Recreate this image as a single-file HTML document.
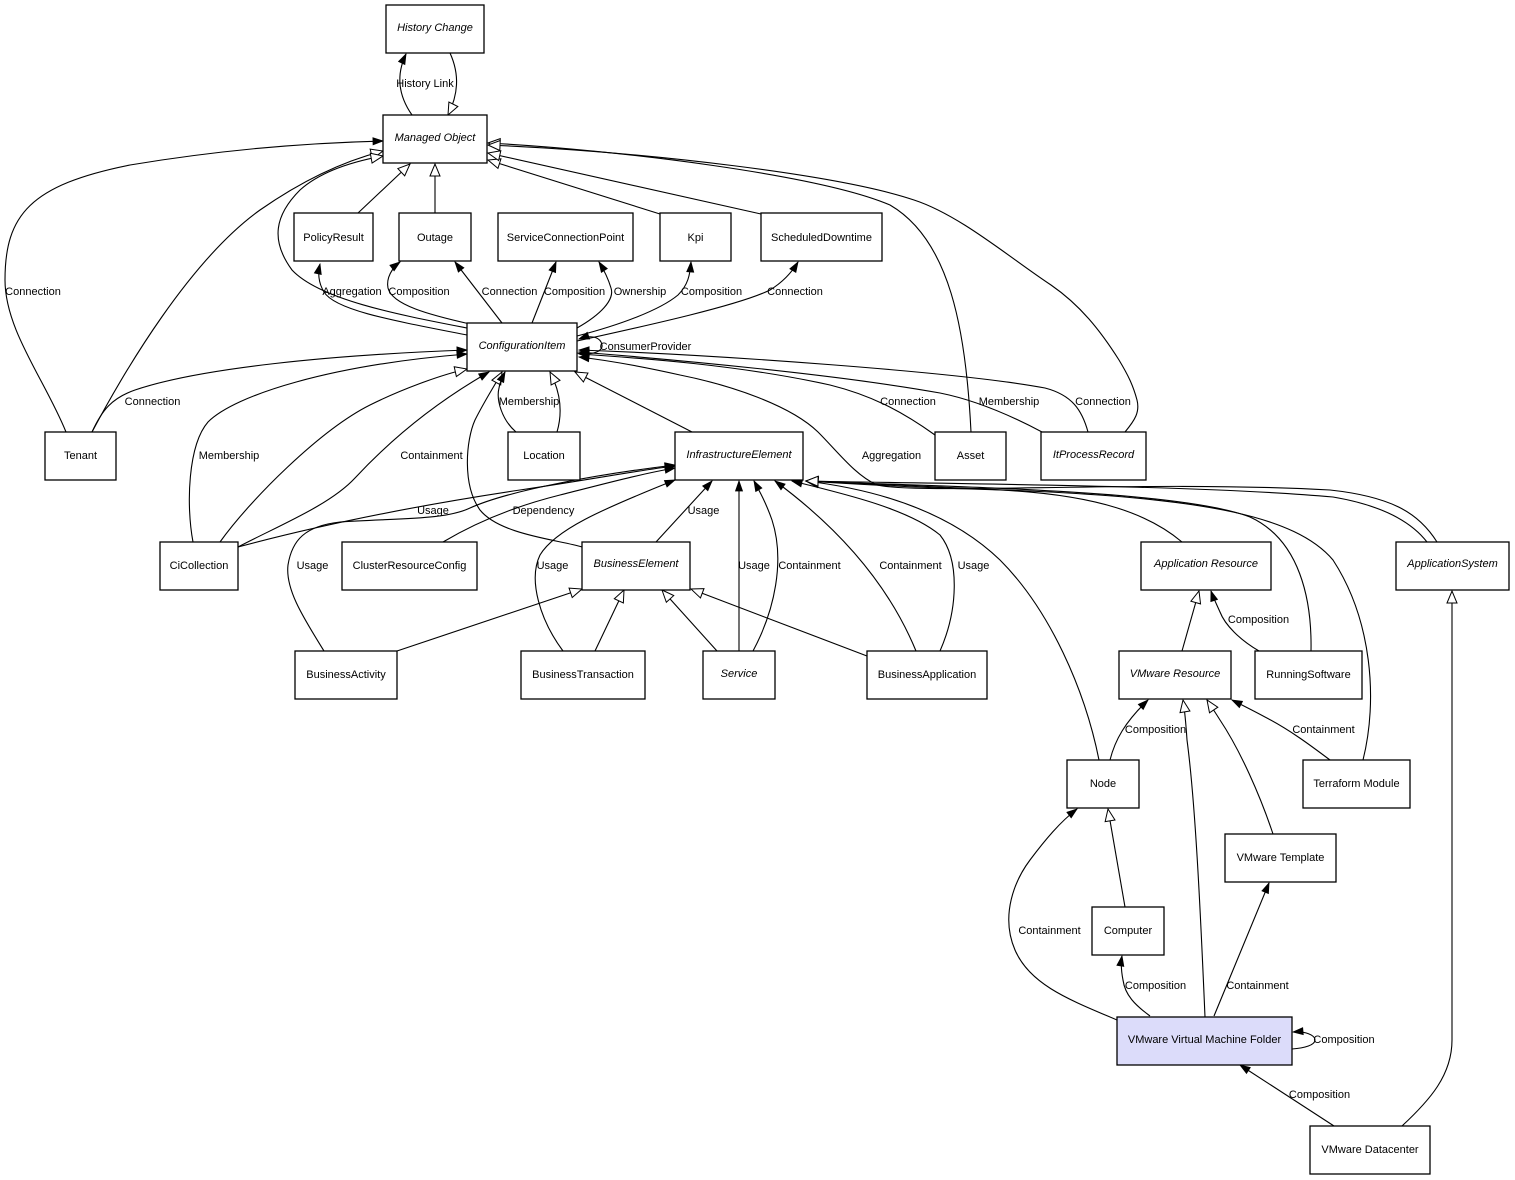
<!DOCTYPE html>
<html>
<head>
<meta charset="utf-8">
<style>
html,body{margin:0;padding:0;background:#fff;}
svg{display:block;}
text{font-family:"Liberation Sans",Arial,sans-serif;font-size:11px;fill:#000;}
.n{fill:#fff;stroke:#000;stroke-width:1.3;}
.e{fill:none;stroke:#000;stroke-width:1.1;}
.i{font-style:italic;}
</style>
</head>
<body>
<svg width="1515" height="1180" viewBox="0 0 1515 1180" xmlns="http://www.w3.org/2000/svg">
<defs>
<marker id="f" markerUnits="userSpaceOnUse" markerWidth="12" markerHeight="10" refX="10" refY="4" orient="auto" overflow="visible">
<path d="M0,0.5 L10,4 L0,7.5 z" fill="#000" stroke="#000" stroke-width="0.8"/>
</marker>
<marker id="h" markerUnits="userSpaceOnUse" markerWidth="14" markerHeight="12" refX="12" refY="5" orient="auto" overflow="visible">
<path d="M0,0 L12,5 L0,10 z" fill="#fff" stroke="#000" stroke-width="1"/>
</marker>
</defs>

<!-- ===== EDGES ===== -->
<g class="edges">
<!-- History link -->
<path class="e" d="M412,115 C398,95 396,75 406,54" marker-end="url(#f)"/>
<path class="e" d="M450,53 C460,75 458,95 448,115" marker-end="url(#h)"/>

<!-- Tenant -> Managed Object -->
<path class="e" d="M66,432 C45,380 5,330 5,280 C5,215 30,185 130,165 C220,150 300,143 383,141" marker-end="url(#f)"/>
<path class="e" d="M92,432 C125,370 190,260 260,210 C300,182 340,162 383,151" marker-end="url(#h)"/>

<!-- CI -> Managed Object gen -->
<path class="e" d="M467,328 C400,315 320,300 292,270 C270,240 275,215 300,190 C320,172 350,162 383,156" marker-end="url(#h)"/>
<!-- CI -> PolicyResult Aggregation -->
<path class="e" d="M467,335 C390,320 335,310 324,292 C318,282 318,273 320,264" marker-end="url(#f)"/>
<!-- PolicyResult, Outage -> MO -->
<path class="e" d="M358,213 L410,164" marker-end="url(#h)"/>
<path class="e" d="M435,213 L435,164" marker-end="url(#h)"/>
<!-- Kpi, SD -> MO -->
<path class="e" d="M660,214 L488,160" marker-end="url(#h)"/>
<path class="e" d="M761,214 L488,153" marker-end="url(#h)"/>
<!-- Asset -> MO -->
<path class="e" d="M971,432 C966,330 950,240 890,205 C820,175 620,150 488,143" marker-end="url(#h)"/>
<!-- ItProcessRecord -> MO -->
<path class="e" d="M1125,432 C1135,420 1140,412 1137,400 C1133,385 1128,375 1119,360 C1100,330 1080,305 1051,285 C1010,258 960,215 914,200 C840,175 650,152 488,145" marker-end="url(#h)"/>

<!-- CI -> Outage Composition -->
<path class="e" d="M470,324 C430,315 392,305 388,288 C386,278 392,268 400,262" marker-end="url(#f)"/>
<!-- CI -> Outage Connection -->
<path class="e" d="M502,323 L455,262" marker-end="url(#f)"/>
<!-- CI -> SCP Composition -->
<path class="e" d="M532,323 L556,262" marker-end="url(#f)"/>
<!-- CI -> SCP Ownership -->
<path class="e" d="M577,328 C600,315 615,300 611,288 C608,278 604,270 599,262" marker-end="url(#f)"/>
<!-- CI -> Kpi Composition -->
<path class="e" d="M577,336 C620,325 660,310 678,295 C688,285 690,275 691,262" marker-end="url(#f)"/>
<!-- CI -> SD Connection -->
<path class="e" d="M577,341 C650,325 740,305 770,290 C783,282 792,272 798,262" marker-end="url(#f)"/>
<!-- CI self loop -->
<path class="e" d="M577,353 C595,356 603,350 602,345 C601,338 593,334 579,339" marker-end="url(#f)"/>

<!-- Tenant -> CI Connection -->
<path class="e" d="M92,432 C102,410 112,398 135,390 C200,368 330,355 467,350" marker-end="url(#f)"/>
<!-- CiCollection -> CI Membership -->
<path class="e" d="M193,542 C186,505 188,445 208,422 C235,395 330,365 467,354" marker-end="url(#f)"/>
<!-- CiCollection -> CI gen -->
<path class="e" d="M220,542 C250,500 320,430 370,405 C400,390 440,375 467,369" marker-end="url(#h)"/>
<!-- CiCollection -> CI Containment -->
<path class="e" d="M238,547 C280,525 330,505 355,478 C395,435 440,400 489,372" marker-end="url(#f)"/>
<!-- CiCollection -> IE Usage -->
<path class="e" d="M238,547 C320,525 420,505 520,490 C600,478 640,470 675,466" marker-end="url(#f)"/>
<!-- BusinessActivity -> IE Usage -->
<path class="e" d="M324,651 C305,620 285,590 288,565 C292,540 305,526 340,522 C400,518 445,520 470,508 C510,490 600,474 675,465" marker-end="url(#f)"/>
<!-- ClusterResourceConfig -> IE Dependency -->
<path class="e" d="M443,542 C480,520 520,505 560,495 C600,485 640,474 675,468" marker-end="url(#f)"/>
<!-- BE -> CI gen -->
<path class="e" d="M582,547 C560,540 500,535 480,510 C462,485 466,440 475,420 C485,400 495,385 502,372" marker-end="url(#h)"/>
<!-- Location -> CI Membership -->
<path class="e" d="M516,432 C502,420 496,400 499,388 C500,381 503,376 505,372" marker-end="url(#f)"/>
<!-- Location -> CI gen -->
<path class="e" d="M557,432 C562,415 562,395 550,372" marker-end="url(#h)"/>
<!-- IE -> CI gen -->
<path class="e" d="M692,432 L575,372" marker-end="url(#h)"/>

<!-- Asset -> CI Connection -->
<path class="e" d="M935,435 C900,410 870,395 830,385 C740,365 640,358 579,354" marker-end="url(#f)"/>
<!-- ItPR -> CI Membership -->
<path class="e" d="M1042,432 C1010,415 975,400 940,393 C840,375 680,360 579,352" marker-end="url(#f)"/>
<!-- ItPR -> CI Connection -->
<path class="e" d="M1088,432 C1082,410 1072,395 1045,388 C960,372 720,355 579,350" marker-end="url(#f)"/>
<!-- AppSystem -> CI Aggregation -->
<path class="e" d="M1437,542 C1420,515 1395,497 1330,490 C1150,480 920,495 877,485 C855,475 838,452 818,432 C790,405 730,385 680,375 C640,366 605,360 579,357" marker-end="url(#f)"/>

<!-- BE -> IE Usage -->
<path class="e" d="M656,542 L712,481" marker-end="url(#f)"/>
<!-- Service -> IE Usage -->
<path class="e" d="M739,651 L739,481" marker-end="url(#f)"/>
<!-- Service -> IE Containment -->
<path class="e" d="M753,651 C775,610 785,560 772,520 C766,503 760,492 754,481" marker-end="url(#f)"/>
<!-- BApp -> IE Containment -->
<path class="e" d="M916,651 C895,600 855,540 775,481" marker-end="url(#f)"/>
<!-- BApp -> IE Usage -->
<path class="e" d="M940,651 C958,610 960,560 940,535 C910,510 850,495 792,481" marker-end="url(#f)"/>
<!-- BT -> IE Usage -->
<path class="e" d="M563,651 C540,620 528,580 540,555 C555,530 600,510 675,480" marker-end="url(#f)"/>

<!-- BE generalizations -->
<path class="e" d="M397,651 L582,589" marker-end="url(#h)"/>
<path class="e" d="M595,651 L624,590" marker-end="url(#h)"/>
<path class="e" d="M717,651 L662,590" marker-end="url(#h)"/>
<path class="e" d="M867,656 L691,589" marker-end="url(#h)"/>

<!-- bundle into IE bottom-right -->
<path class="e" d="M1099,760 C1085,690 1050,610 1000,560 C950,512 880,490 806,481" marker-end="url(#h)"/>
<path class="e" d="M1182,542 C1150,515 1100,495 1000,490 C900,487 850,484 806,481" marker-end="url(#h)"/>
<path class="e" d="M1311,651 C1312,600 1300,540 1250,517 C1180,490 950,487 806,481" marker-end="url(#h)"/>
<path class="e" d="M1363,760 C1378,700 1372,620 1333,560 C1295,515 1200,500 1050,492 C950,487 870,484 806,481" marker-end="url(#h)"/>
<path class="e" d="M1427,542 C1410,520 1380,505 1333,497 C1200,485 950,484 806,481" marker-end="url(#h)"/>

<!-- lower right -->
<path class="e" d="M1182,651 L1199,591" marker-end="url(#h)"/>
<path class="e" d="M1259,651 C1240,640 1225,625 1220,612 C1216,603 1213,597 1211,591" marker-end="url(#f)"/>
<path class="e" d="M1402,1126 C1430,1100 1452,1075 1452,1040 L1452,591" marker-end="url(#h)"/>
<path class="e" d="M1110,760 C1115,740 1125,722 1148,700" marker-end="url(#f)"/>
<path class="e" d="M1205,1017 C1200,900 1195,800 1187,740 C1186,725 1185,712 1183,700" marker-end="url(#h)"/>
<path class="e" d="M1273,834 C1260,795 1240,750 1220,720 C1215,712 1211,706 1207,700" marker-end="url(#h)"/>
<path class="e" d="M1330,760 C1310,745 1290,730 1265,717 C1252,710 1242,705 1232,700" marker-end="url(#f)"/>
<path class="e" d="M1125,907 L1108,809" marker-end="url(#h)"/>
<path class="e" d="M1117,1020 C1070,1000 1030,985 1015,950 C1000,915 1015,880 1030,860 C1045,840 1060,822 1077,809" marker-end="url(#f)"/>
<path class="e" d="M1150,1016 C1135,1005 1125,995 1123,980 C1121,970 1121,962 1122,956" marker-end="url(#f)"/>
<path class="e" d="M1214,1016 L1269,883" marker-end="url(#f)"/>
<path class="e" d="M1292,1049 C1305,1048 1315,1045 1315,1040 C1315,1035 1305,1031 1293,1032" marker-end="url(#f)"/>
<path class="e" d="M1334,1126 L1240,1065" marker-end="url(#f)"/>
</g>

<!-- ===== NODES ===== -->
<g>
<rect class="n" x="386" y="5" width="98" height="48"/>
<rect class="n" x="383" y="115" width="104" height="48"/>
<rect class="n" x="294" y="213" width="79" height="48"/>
<rect class="n" x="399" y="213" width="72" height="48"/>
<rect class="n" x="498" y="213" width="135" height="48"/>
<rect class="n" x="660" y="213" width="71" height="48"/>
<rect class="n" x="761" y="213" width="121" height="48"/>
<rect class="n" x="467" y="323" width="110" height="48"/>
<rect class="n" x="45" y="432" width="71" height="48"/>
<rect class="n" x="508" y="432" width="72" height="48"/>
<rect class="n" x="675" y="432" width="128" height="48"/>
<rect class="n" x="935" y="432" width="71" height="48"/>
<rect class="n" x="1041" y="432" width="105" height="48"/>
<rect class="n" x="160" y="542" width="78" height="48"/>
<rect class="n" x="342" y="542" width="135" height="48"/>
<rect class="n" x="582" y="542" width="108" height="48"/>
<rect class="n" x="1141" y="542" width="130" height="48"/>
<rect class="n" x="1396" y="542" width="113" height="48"/>
<rect class="n" x="295" y="651" width="102" height="48"/>
<rect class="n" x="521" y="651" width="124" height="48"/>
<rect class="n" x="703" y="651" width="72" height="48"/>
<rect class="n" x="867" y="651" width="120" height="48"/>
<rect class="n" x="1119" y="651" width="112" height="48"/>
<rect class="n" x="1255" y="651" width="107" height="48"/>
<rect class="n" x="1067" y="760" width="72" height="48"/>
<rect class="n" x="1303" y="760" width="107" height="48"/>
<rect class="n" x="1225" y="834" width="111" height="48"/>
<rect class="n" x="1092" y="907" width="72" height="48"/>
<rect class="n" x="1117" y="1017" width="175" height="48" style="fill:#dcdcfa"/>
<rect class="n" x="1310" y="1126" width="120" height="48"/>
</g>

<!-- node labels -->
<g text-anchor="middle">
<text class="i" x="435" y="31">History Change</text>
<text class="i" x="435" y="141">Managed Object</text>
<text x="333.5" y="241">PolicyResult</text>
<text x="435" y="241">Outage</text>
<text x="565.5" y="241">ServiceConnectionPoint</text>
<text x="695.5" y="241">Kpi</text>
<text x="821.5" y="241">ScheduledDowntime</text>
<text class="i" x="522" y="349">ConfigurationItem</text>
<text x="80.5" y="459">Tenant</text>
<text x="544" y="459">Location</text>
<text class="i" x="739" y="458">InfrastructureElement</text>
<text x="970.5" y="459">Asset</text>
<text class="i" x="1093.5" y="458">ItProcessRecord</text>
<text x="199" y="569">CiCollection</text>
<text x="409.5" y="569">ClusterResourceConfig</text>
<text class="i" x="636" y="567">BusinessElement</text>
<text class="i" x="1206" y="567">Application Resource</text>
<text class="i" x="1452.5" y="567">ApplicationSystem</text>
<text x="346" y="678">BusinessActivity</text>
<text x="583" y="678">BusinessTransaction</text>
<text class="i" x="739" y="677">Service</text>
<text x="927" y="678">BusinessApplication</text>
<text class="i" x="1175" y="677">VMware Resource</text>
<text x="1308.5" y="678">RunningSoftware</text>
<text x="1103" y="787">Node</text>
<text x="1356.5" y="787">Terraform Module</text>
<text x="1280.5" y="861">VMware Template</text>
<text x="1128" y="934">Computer</text>
<text x="1204.5" y="1043">VMware Virtual Machine Folder</text>
<text x="1370" y="1153">VMware Datacenter</text>
</g>

<!-- edge labels -->
<g text-anchor="middle">
<text x="425" y="87">History Link</text>
<text x="33" y="295">Connection</text>
<text x="352" y="295">Aggregation</text>
<text x="419" y="295">Composition</text>
<text x="509.5" y="295">Connection</text>
<text x="574.5" y="295">Composition</text>
<text x="640" y="295">Ownership</text>
<text x="711.5" y="295">Composition</text>
<text x="795" y="295">Connection</text>
<text x="645.5" y="350">ConsumerProvider</text>
<text x="152.5" y="405">Connection</text>
<text x="529" y="405">Membership</text>
<text x="908" y="405">Connection</text>
<text x="1009" y="405">Membership</text>
<text x="1103" y="405">Connection</text>
<text x="229" y="459">Membership</text>
<text x="431.5" y="459">Containment</text>
<text x="891.5" y="459">Aggregation</text>
<text x="433" y="514">Usage</text>
<text x="543.5" y="514">Dependency</text>
<text x="703.5" y="514">Usage</text>
<text x="312.5" y="569">Usage</text>
<text x="552.5" y="569">Usage</text>
<text x="754" y="569">Usage</text>
<text x="809.5" y="569">Containment</text>
<text x="910.5" y="569">Containment</text>
<text x="973.5" y="569">Usage</text>
<text x="1258.5" y="623">Composition</text>
<text x="1155.5" y="733">Composition</text>
<text x="1323.5" y="733">Containment</text>
<text x="1049.5" y="934">Containment</text>
<text x="1155.5" y="989">Composition</text>
<text x="1257.5" y="989">Containment</text>
<text x="1344" y="1043">Composition</text>
<text x="1319.5" y="1098">Composition</text>
</g>
</svg>
</body>
</html>
